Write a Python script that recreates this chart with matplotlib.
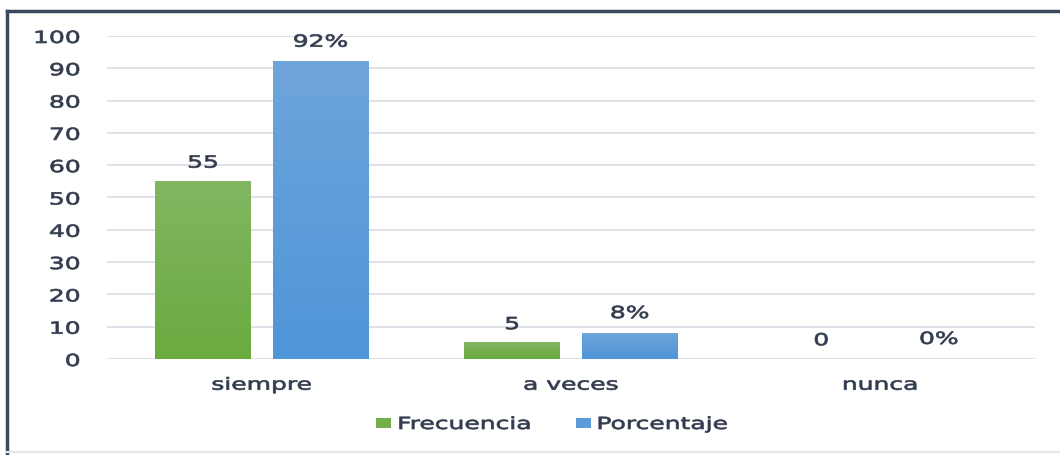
import numpy as np
import matplotlib.pyplot as plt
from matplotlib.lines import Line2D
from matplotlib.patheffects import AbstractPathEffect
from matplotlib.transforms import Affine2D
from matplotlib.colors import LinearSegmentedColormap

categorias = ["siempre", "a veces", "nunca"]
frecuencia = [55, 5, 0]
porcentaje = [92, 8, 0]
etiquetas_pct = ["92%", "8%", "0%"]
yticks = [0, 10, 20, 30, 40, 50, 60, 70, 80, 90, 100]

txt = "#333c4e"
verde = "#74af4d"
azul = "#5b9bd8"


class Ancho(AbstractPathEffect):
    # the original text is stretched sideways, widen the glyphs around an anchor
    def __init__(self, s=1.5, anchor=0.5):
        super().__init__()
        self.s = s
        self.anchor = anchor

    def draw_path(self, renderer, gc, tpath, affine, rgbFace=None):
        ext = tpath.get_extents()
        x0 = ext.x0 + self.anchor * ext.width
        t = Affine2D().translate(-x0, 0).scale(self.s, 1).translate(x0, 0) + affine
        gc0 = renderer.new_gc()
        gc0.copy_properties(gc)
        gc0.set_linewidth(0.5)
        if rgbFace is not None:
            gc0.set_foreground(rgbFace)
        renderer.draw_path(gc0, tpath, t, rgbFace)
        gc0.restore()


def degradado(barras, abajo, arriba):
    cmap = LinearSegmentedColormap.from_list("d", [abajo, arriba])
    grad = np.linspace(0, 1, 64).reshape(-1, 1)
    for r in barras:
        h = r.get_height()
        if h <= 0:
            continue
        ax.imshow(grad, extent=[r.get_x(), r.get_x() + r.get_width(), 0, h],
                  origin="lower", cmap=cmap, aspect="auto", zorder=3.5)


fig = plt.figure(figsize=(10.6, 4.56), dpi=100)
ax = fig.add_axes([0.101, 0.2105, 0.875, 0.7085])

x = np.arange(len(categorias))
w = 0.308
off = 0.19
b1 = ax.bar(x - off, frecuencia, w, color=verde, label="Frecuencia", zorder=3)
b2 = ax.bar(x + off, porcentaje, w, color=azul, label="Porcentaje", zorder=3)
degradado(b1, "#6aab3f", "#82b662")
degradado(b2, "#4f95d8", "#6ea5db")

for r, v in zip(b1, frecuencia):
    ax.annotate(str(v), (r.get_x() + r.get_width() / 2, r.get_height()),
                xytext=(0, 7), textcoords="offset points", ha="center", va="bottom",
                fontsize=12, color=txt, path_effects=[Ancho(1.5, 0.5)])
for r, s in zip(b2, etiquetas_pct):
    ax.annotate(s, (r.get_x() + r.get_width() / 2, r.get_height()),
                xytext=(0, 8), textcoords="offset points", ha="center", va="bottom",
                fontsize=12, color=txt, path_effects=[Ancho(1.5, 0.5)])

ax.set_xlim(-0.5, 2.5)
ax.set_ylim(0, 100)
ax.set_yticks(yticks)
ax.set_xticks(x)
ax.set_xticklabels(categorias)
ax.tick_params(axis="both", length=0, labelsize=12, colors=txt)
ax.tick_params(axis="y", pad=19.5)
ax.tick_params(axis="x", pad=12)
ax.grid(axis="y", color="#d9dde4", linewidth=1.2, zorder=0)
for s in ax.spines.values():
    s.set_visible(False)
for lbl in ax.get_yticklabels():
    lbl.set_path_effects([Ancho(1.5, 1.0)])
for lbl in ax.get_xticklabels():
    lbl.set_path_effects([Ancho(1.5, 0.5)])

leg = fig.legend(loc="center", bbox_to_anchor=(530.5 / 1060, 1 - 425 / 456), ncol=2,
                 frameon=False, fontsize=12, handlelength=0.9, handleheight=0.6,
                 handletextpad=0.4, columnspacing=5.3, labelcolor=txt)
for t in leg.get_texts():
    t.set_path_effects([Ancho(1.5, 0.0)])

# marco
fig.add_artist(Line2D([7 / 1060, 7 / 1060], [0, 1 - 12 / 456], color="#3c4a5e", lw=2.5))
fig.add_artist(Line2D([7 / 1060, 1], [1 - 12 / 456, 1 - 12 / 456], color="#3c4a5e", lw=2.5))
fig.add_artist(Line2D([7 / 1060, 1], [3 / 456, 3 / 456], color="#e3e6ea", lw=1.5))

fig.savefig("out.png", dpi=100)
